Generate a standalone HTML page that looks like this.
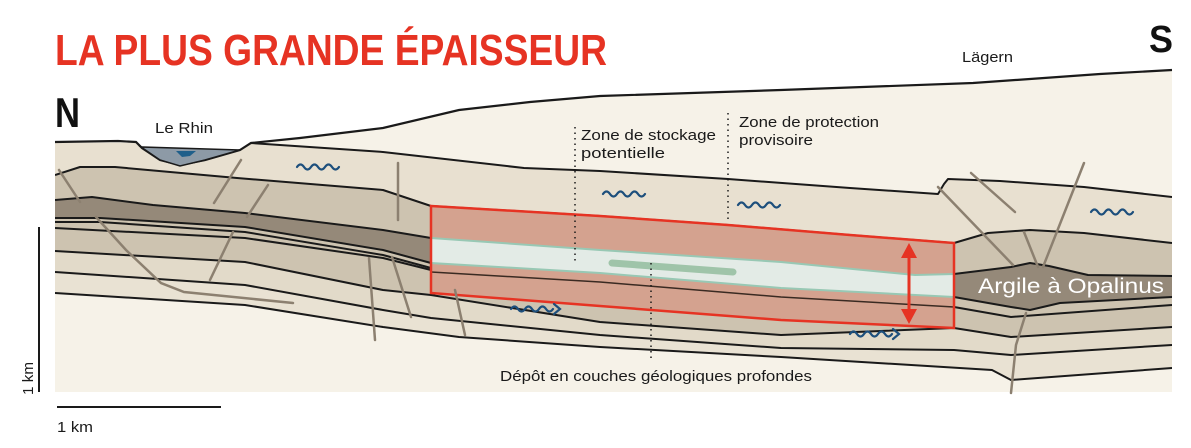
<!DOCTYPE html>
<html><head><meta charset="utf-8"><style>
html,body{margin:0;padding:0;background:#fff;}
svg{display:block;font-family:"Liberation Sans",sans-serif;}
</style></head><body>
<svg width="1191" height="448" viewBox="0 0 1191 448" xmlns="http://www.w3.org/2000/svg">
<defs><clipPath id="sec"><path d="M55,142 L118,141 136,142 142,148 160,160 180,165 205,160 240,150 251,143 300,138 383,128 459,110 530,102 600,96 781,90 973,83 1030,79 1100,74 1172,70 L1172,392 L55,392 Z"/></clipPath></defs>
<path d="M55,142 L118,141 136,142 142,148 160,160 180,165 205,160 240,150 251,143 300,138 383,128 459,110 530,102 600,96 781,90 973,83 1030,79 1100,74 1172,70 L1172,392 L55,392 Z" fill="#f6f2e8"/>
<g clip-path="url(#sec)">
<g stroke="none">
<path d="M55,143 136,143 251,143 383,152 524,168 600,171 728,179 850,188 938,194 944,184 948,179 1000,181 1084,187 1172,197 L1172,243 1084,233 1030,230 988,233 954,243 850,235 728,225 600,216 431,206 383,190 237,178 115,167 80,167 55,175Z" fill="#e8e0d0"/>
<path d="M55,175 80,167 115,167 237,178 383,190 431,206 600,216 728,225 850,235 954,243 988,233 1030,230 1084,233 1172,243 L1172,276 1088,275 1049,266 1030,263 1011,267 954,274 915,275 781,262 600,250 431,238 383,230 245,213 153,205 92,197 55,200Z" fill="#cdc3b0"/>
<path d="M55,200 92,197 153,205 245,213 383,230 431,238 600,250 781,262 915,275 954,274 1011,267 1030,263 1049,266 1088,275 1172,276 L1172,297 1060,303 1030,310 1011,307 954,297 781,288 600,273 431,263 383,250 245,227 100,218 55,218Z" fill="#958979"/>
<path d="M55,218 100,218 245,227 383,250 431,263 600,273 781,288 954,297 1011,307 1030,310 1060,303 1172,297 L1172,327 1011,337 954,328 781,335 600,322 431,295 383,290 245,262 55,251Z" fill="#cdc3b0"/>
<path d="M55,251 245,262 383,290 431,295 600,322 781,335 954,328 1011,337 1172,327 L1172,345 1011,355 954,350 781,348 600,335 431,318 383,310 245,285 55,272Z" fill="#e2dac9"/>
<path d="M55,272 245,285 383,310 431,318 600,335 781,348 954,350 1011,355 1172,345 L1172,368 1011,380 992,370 781,357 600,347 459,337 383,327 245,305 55,293Z" fill="#e9e2d3"/>
</g>
<g fill="none" stroke="#1a1a1a" stroke-width="2" stroke-linejoin="round">
<polyline points="251,143 383,152 524,168 600,171 728,179 850,188 938,194 944,184 948,179 1000,181 1084,187 1172,197"/>
<polyline points="55,175 80,167 115,167 237,178 383,190 431,206 600,216 728,225 850,235 954,243 988,233 1030,230 1084,233 1172,243"/>
<polyline points="55,200 92,197 153,205 245,213 383,230 431,238 600,250 781,262 915,275 954,274 1011,267 1030,263 1049,266 1088,275 1172,276"/>
<polyline points="55,218 100,218 245,227 383,250 431,263 600,273 781,288 954,297 1011,307 1030,310 1060,303 1172,297"/>
<polyline points="55,222 100,222 245,232 383,255 431,268 600,282 781,297 954,307 1011,317 1172,305"/>
<polyline points="55,228 245,238 383,258 431,270"/>
<polyline points="55,251 245,262 383,290 431,295 600,322 781,335 954,328 1011,337 1172,327"/>
<polyline points="55,272 245,285 383,310 431,318 600,335 781,348 954,350 1011,355 1172,345"/>
<polyline points="55,293 245,305 383,327 459,337 600,347 781,357 992,370 1011,380 1172,368"/>
</g>
</g>
<polyline points="55,142 118,141 136,142 142,148 160,160 180,165 205,160 240,150 251,143 300,138 383,128 459,110 530,102 600,96 781,90 973,83 1030,79 1100,74 1172,70" fill="none" stroke="#1a1a1a" stroke-width="2.2"/>
<path d="M141,147 L160,160 180,166 205,160 240,150 Z" fill="#8d9aa6" stroke="#1a1a1a" stroke-width="1.5"/>
<path d="M176,151 L182,157 190,156 196,151 Z" fill="#1f5f8a"/>
<path d="M431,206 600,216 728,225 850,235 954,243 L954,328 781,320 600,306 431,293Z" fill="#d4a28f"/>
<path d="M431,238 600,250 781,262 915,275 954,274 L954,297 781,288 600,273 431,263Z" fill="#e3ebe6" stroke="#98c8b4" stroke-width="2"/>
<polyline points="431,272 600,282 781,297 954,307" fill="none" stroke="#3a2a22" stroke-width="1.5"/>
<path d="M431,206 600,216 728,225 850,235 954,243 L954,328 781,320 600,306 431,293Z" fill="none" stroke="#e63323" stroke-width="2.5"/>
<line x1="612" y1="263" x2="733" y2="272" stroke="#9fc4a9" stroke-width="7" stroke-linecap="round"/>
<line x1="909" y1="252" x2="909" y2="314" stroke="#e63323" stroke-width="3"/>
<path d="M901,258 L909,243 L917,258Z M901,309 L909,324 L917,309Z" fill="#e63323"/>
<g stroke="#8c8070" stroke-width="2.5" fill="none" stroke-linecap="round">
<line x1="59" y1="170" x2="80" y2="202"/>
<line x1="241" y1="160" x2="214" y2="203"/>
<line x1="268" y1="185" x2="247" y2="217"/>
<line x1="398" y1="163" x2="398" y2="220"/>
<polyline points="96,217 126,250 161,283 184,292 293,303"/>
<line x1="233" y1="232" x2="210" y2="280"/>
<line x1="369" y1="258" x2="375" y2="340"/>
<line x1="392" y1="257" x2="411" y2="317"/>
<line x1="455" y1="290" x2="465" y2="335"/>
<line x1="938" y1="187" x2="1013" y2="265"/>
<line x1="971" y1="173" x2="1015" y2="212"/>
<line x1="1084" y1="163" x2="1043" y2="267"/>
<line x1="1024" y1="232" x2="1038" y2="267"/>
<polyline points="1026,313 1016,345 1011,393"/>
</g>
<g stroke="#1d4f7c" stroke-width="2.2" fill="none" stroke-linecap="round">
<path d="M297,167 q3.5,-5 7,0 t7,0 t7,0 t7,0 t7,0 t7,0"/>
<path d="M603,194 q3.5,-5 7,0 t7,0 t7,0 t7,0 t7,0 t7,0"/>
<path d="M738,205 q3.5,-5 7,0 t7,0 t7,0 t7,0 t7,0 t7,0"/>
<path d="M1091,212 q3.5,-5 7,0 t7,0 t7,0 t7,0 t7,0 t7,0"/>
<path d="M511,309 q3.5,-5 7,0 t7,0 t7,0 t7,0 t7,0 t7,0 M554,304 l6,5 -6,5"/>
<path d="M850,334 q3.5,-5 7,0 t7,0 t7,0 t7,0 t7,0 t7,0 M893,329 l6,5 -6,5"/>
</g>
<g stroke="#1a1a1a" stroke-width="1.5" stroke-dasharray="1.5,4">
<line x1="575" y1="127" x2="575" y2="262"/>
<line x1="728" y1="113" x2="728" y2="223"/>
<line x1="651" y1="263" x2="651" y2="360"/>
</g>
<text x="55" y="65" font-size="44" font-weight="bold" fill="#e63323" textLength="552" lengthAdjust="spacingAndGlyphs">LA PLUS GRANDE ÉPAISSEUR</text>
<text x="1149" y="52" font-size="38" font-weight="bold" fill="#111" textLength="24" lengthAdjust="spacingAndGlyphs">S</text>
<text x="55" y="127" font-size="42" font-weight="bold" fill="#111" textLength="25" lengthAdjust="spacingAndGlyphs">N</text>
<g font-size="14.5" fill="#1a1a1a">
<text x="962" y="62" textLength="51" lengthAdjust="spacingAndGlyphs">Lägern</text>
<text x="155" y="133" textLength="58" lengthAdjust="spacingAndGlyphs">Le Rhin</text>
<text x="581" y="140" textLength="135" lengthAdjust="spacingAndGlyphs">Zone de stockage</text>
<text x="581" y="158" textLength="84" lengthAdjust="spacingAndGlyphs">potentielle</text>
<text x="739" y="127" textLength="140" lengthAdjust="spacingAndGlyphs">Zone de protection</text>
<text x="739" y="145" textLength="74" lengthAdjust="spacingAndGlyphs">provisoire</text>
<text x="500" y="381" textLength="312" lengthAdjust="spacingAndGlyphs">Dépôt en couches géologiques profondes</text>
<text x="57" y="432" textLength="36" lengthAdjust="spacingAndGlyphs">1 km</text>
<text transform="translate(33,395) rotate(-90)" textLength="33" lengthAdjust="spacingAndGlyphs">1 km</text>
</g>
<text x="978" y="293" font-size="21" fill="#fff" textLength="186" lengthAdjust="spacingAndGlyphs">Argile à Opalinus</text>
<line x1="39" y1="227" x2="39" y2="392" stroke="#1a1a1a" stroke-width="2"/>
<line x1="57" y1="407" x2="221" y2="407" stroke="#1a1a1a" stroke-width="2"/>
</svg>
</body></html>
